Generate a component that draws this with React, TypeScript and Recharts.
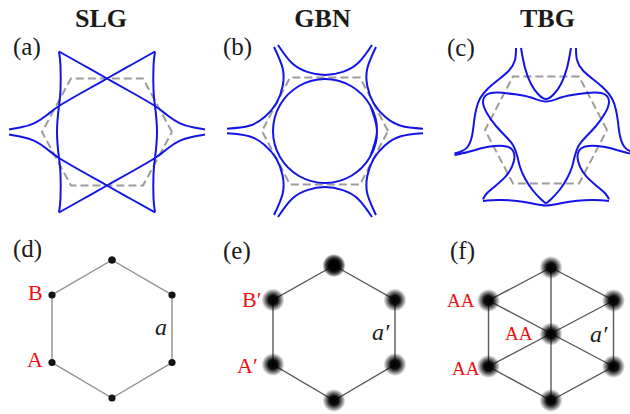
import React from 'react';
import { LineChart, Line, XAxis, YAxis } from 'recharts';

type Pt = { x: number; y: number };
const pts = (a: number[][]): Pt[] => a.map(([x, y]) => ({ x, y }));

// ---- (a) SLG contours, local units (px from panel centre, y up)
const slgLeftUp = pts([[-98, 2.5], [-86, 4.7], [-73, 8.7], [-60, 17], [-48, 26], [-24, 40], [0, 53.5], [24, 67], [48, 80.5]]);
const slgRightUp = pts([[98, 2.5], [86, 4.7], [73, 8.7], [60, 17], [48, 26], [24, 40], [0, 53.5], [-24, 67], [-48, 80.5]]);
const slgLeftDown = pts([[-98, -2.5], [-86, -4.7], [-73, -8.7], [-60, -17], [-48, -26], [-24, -40], [0, -53.5], [24, -67], [48, -80.5]]);
const slgRightDown = pts([[98, -2.5], [86, -4.7], [73, -8.7], [60, -17], [48, -26], [24, -40], [0, -53.5], [-24, -67], [-48, -80.5]]);
const slgLeftSide = pts([[-48, 80.5], [-46.5, 66], [-46.5, 42], [-48, 26], [-50, 0], [-48, -26], [-46.5, -42], [-46.5, -66], [-48, -80.5]]);
const slgRightSide = pts([[48, 80.5], [46.5, 66], [46.5, 42], [48, 26], [50, 0], [48, -26], [46.5, -42], [46.5, -66], [48, -80.5]]);
const slgBz = pts([[65, 0], [36, 53.5], [-36, 53.5], [-65, 0], [-36, -53.5], [36, -53.5], [65, 0]]);

// ---- (b) GBN
const gbnCircle = pts([[45, -26], [52, 0], [45, 26], [26, 45], [0, 52], [-26, 45], [-45, 26], [-52, 0], [-45, -26], [-26, -45], [0, -52], [26, -45], [45, -26], [52, 0], [45, 26]]);
const gbnTop = pts([[-47, 86], [-33.4, 68.2], [-17.8, 59.1], [0, 56], [17.8, 59.1], [33.4, 68.2], [47, 86]]);
const gbnBottom = pts([[-47, -86], [-33.4, -68.2], [-17.8, -59.1], [0, -56], [17.8, -59.1], [33.4, -68.2], [47, -86]]);
const gbnUpRight = pts([[51, 84], [42.4, 63], [42.3, 45], [48.5, 28], [60.1, 14.2], [75.8, 5.2], [98, 2.2]]);
const gbnLowRight = pts([[51, -84], [42.4, -63], [42.3, -45], [48.5, -28], [60.1, -14.2], [75.8, -5.2], [98, -2.2]]);
const gbnUpLeft = pts([[-51, 84], [-42.4, 63], [-42.3, 45], [-48.5, 28], [-60.1, 14.2], [-75.8, 5.2], [-98, 2.2]]);
const gbnLowLeft = pts([[-51, -84], [-42.4, -63], [-42.3, -45], [-48.5, -28], [-60.1, -14.2], [-75.8, -5.2], [-98, -2.2]]);
const gbnBz = pts([[63, 0], [35, 53.5], [-35, 53.5], [-63, 0], [-35, -53.5], [35, -53.5], [63, 0]]);

// ---- (c) TBG
const tbgOuterLeft = pts([[-30, 82], [-31, 70], [-37, 59.5], [-48, 50], [-58, 41.5], [-66, 31.5], [-70, 20], [-72, 8], [-74, -6], [-78.5, -17], [-85, -21.5], [-91.5, -23.5]]);
const tbgOuterRight = pts([[30, 82], [31, 70], [37, 59.5], [48, 50], [58, 41.5], [66, 31.5], [70, 20], [72, 8], [74, -6], [78.5, -17], [85, -21.5], [91.5, -23.5]]);
const tbgLobeLeft = pts([[-91.5, -25], [-78, -22], [-64.7, -18.3], [-51.3, -16], [-38.5, -16.7], [-33, -20.7], [-31.5, -27.3], [-34, -36.7], [-40.5, -46.7], [-51.5, -56.7], [-59.7, -64], [-63, -69.3]]);
const tbgLobeRight = pts([[91.5, -25], [78, -22], [64.7, -18.3], [51.3, -16], [38.5, -16.7], [33, -20.7], [31.5, -27.3], [34, -36.7], [40.5, -46.7], [51.5, -56.7], [59.7, -64], [63, -69.3]]);
const tbgBottom = pts([[-63, -71], [-48, -70], [-31.3, -70.7], [-14.7, -73.3], [0, -75.5], [14.7, -73.3], [31.3, -70.7], [48, -70], [63, -71]]);
const tbgTopV = pts([[-25, 82], [-21, 62], [-15, 46], [-8, 36], [0, 31], [8, 36], [15, 46], [21, 62], [25, 82]]);
const tbgInner = pts([
  [0, -73.5], [-5, -69.3], [-13.5, -60], [-21, -48.5], [-26, -37], [-28.5, -27], [-32.5, -16], [-40, -6.7], [-50, 4], [-59, 16.7], [-63, 28], [-59, 35.5], [-48, 37.5], [-31, 35.7], [-15, 32.5], [0, 28.5],
  [15, 32.5], [31, 35.7], [48, 37.5], [59, 35.5], [63, 28], [59, 16.7], [50, 4], [40, -6.7], [32.5, -16], [28.5, -27], [26, -37], [21, -48.5], [13.5, -60], [5, -69.3], [0, -73.5],
]);
const tbgBz = pts([[61, 0], [33, 53.5], [-33, 53.5], [-61, 0], [-33, -53.5], [33, -53.5], [61, 0]]);

// ---- (d)(e)(f) lattices
const slgLattice = pts([[0, 69], [60, 34], [60, -33.5], [0, -69], [-60, -33.5], [-60, 34], [0, 69]]);
const gbnLattice = pts([[0, 67.5], [61, 33], [61, -31.5], [0, -67.5], [-61, -31.5], [-61, 33], [0, 67.5]]);
const tbgLattice = pts([[0, 66.5], [62.5, 33.5], [62.5, -32.5], [0, -66.5], [-62.5, -32.5], [-62.5, 33.5], [0, 66.5]]);
const tbgSites = pts([[0, 66.5], [62.5, 33.5], [62.5, -32.5], [0, -66.5], [-62.5, -32.5], [-62.5, 33.5], [0, 0]]);
const tbgDiag1 = pts([[0, 66.5], [0, -66.5]]);
const tbgDiag2 = pts([[-62.5, 33.5], [62.5, -32.5]]);
const tbgDiag3 = pts([[62.5, 33.5], [-62.5, -32.5]]);

const BLUE = '#1414e6';
const DASH = '#9c9c9c';
const RED = '#ee1111';
const SERIF = "'Liberation Serif', 'Times New Roman', serif";

const curve = (key: string, data: Pt[], stroke = BLUE, width = 2, extra: any = {}) => (
  <Line key={key} data={data} dataKey="y" type="natural" stroke={stroke} strokeWidth={width}
    dot={false} activeDot={false} isAnimationActive={false} {...extra} />
);
const bz = (data: Pt[]) => curve('bz', data, DASH, 2, { type: 'linear', strokeDasharray: '8 4' });
const edge = (key: string, data: Pt[], stroke: string) => curve(key, data, stroke, 1.4, { type: 'linear' });

const blob = (p: any) => (
  <circle key={`b${p.index}`} cx={p.cx} cy={p.cy} r={11.5} fill="url(#blob)" />
);
const sharpDot = (p: any) => (
  <circle key={`s${p.index}`} cx={p.cx} cy={p.cy} r={3.6} fill="#151515" />
);

function Panel({ cx, cy, x0, x1, y0, y1, children }: any) {
  return (
    <div style={{ position: 'absolute', left: cx + x0, top: cy - y1 }}>
      <LineChart width={x1 - x0} height={y1 - y0} margin={{ top: 0, right: 0, bottom: 0, left: 0 }}>
        <XAxis type="number" dataKey="x" domain={[x0, x1]} hide allowDataOverflow />
        <YAxis type="number" domain={[y0, y1]} hide allowDataOverflow />
        {children}
      </LineChart>
    </div>
  );
}

export default function App() {
  return (
    <div style={{ position: 'absolute', left: 0, top: 0, width: 630, height: 414, overflow: 'hidden', background: '#fff' }}>
      <Panel cx={106.5} cy={132} x0={-106} x1={106} y0={-100} y1={100}>
        {bz(slgBz)}
        {curve('a1', slgLeftUp)}
        {curve('a2', slgRightUp)}
        {curve('a3', slgLeftDown)}
        {curve('a4', slgRightDown)}
        {curve('a5', slgLeftSide)}
        {curve('a6', slgRightSide)}
      </Panel>
      <Panel cx={324.5} cy={131} x0={-106} x1={106} y0={-100} y1={100}>
        {bz(gbnBz)}
        {curve('b0', gbnCircle)}
        {curve('b1', gbnTop)}
        {curve('b2', gbnBottom)}
        {curve('b3', gbnUpRight)}
        {curve('b4', gbnLowRight)}
        {curve('b5', gbnUpLeft)}
        {curve('b6', gbnLowLeft)}
      </Panel>
      <Panel cx={546} cy={130} x0={-96} x1={84} y0={-100} y1={100}>
        {bz(tbgBz)}
        {curve('c1', tbgOuterLeft)}
        {curve('c2', tbgOuterRight)}
        {curve('c3', tbgLobeLeft)}
        {curve('c4', tbgLobeRight)}
        {curve('c5', tbgBottom)}
        {curve('c6', tbgTopV)}
        {curve('c7', tbgInner)}
      </Panel>
      <Panel cx={112} cy={328.5} x0={-80} x1={80} y0={-80} y1={80}>
        {edge('d1', slgLattice, '#8f8f8f')}
        {curve('d2', slgLattice, 'none', 0, { type: 'linear', dot: sharpDot })}
      </Panel>
      <Panel cx={334} cy={332.5} x0={-80} x1={80} y0={-80} y1={80}>
        {edge('e1', gbnLattice, '#5a5a5a')}
        {curve('e2', gbnLattice, 'none', 0, { type: 'linear', dot: blob })}
      </Panel>
      <Panel cx={550.5} cy={333.5} x0={-78} x1={78} y0={-80} y1={80}>
        {edge('f1', tbgLattice, '#5a5a5a')}
        {edge('f2', tbgDiag1, '#5a5a5a')}
        {edge('f3', tbgDiag2, '#5a5a5a')}
        {edge('f4', tbgDiag3, '#5a5a5a')}
        {curve('f5', tbgSites, 'none', 0, { type: 'linear', dot: blob })}
      </Panel>
      <svg width={630} height={414} style={{ position: 'absolute', left: 0, top: 0, pointerEvents: 'none' }}
        fontFamily={SERIF}>
        <defs>
          <radialGradient id="blob">
            <stop offset="0%" stopColor="#000" stopOpacity={1} />
            <stop offset="40%" stopColor="#000" stopOpacity={0.95} />
            <stop offset="70%" stopColor="#000" stopOpacity={0.5} />
            <stop offset="100%" stopColor="#000" stopOpacity={0} />
          </radialGradient>
        </defs>
        <g fill="#1a1a1a" fontWeight="bold" fontSize={26} textAnchor="middle">
          <text x={101} y={27}>SLG</text>
          <text x={322.5} y={27}>GBN</text>
          <text x={547.5} y={27}>TBG</text>
        </g>
        <g fill="#1a1a1a" fontSize={25}>
          <text x={13} y={55}>(a)</text>
          <text x={223} y={55}>(b)</text>
          <text x={447} y={56}>(c)</text>
          <text x={13} y={257}>(d)</text>
          <text x={223} y={259}>(e)</text>
          <text x={450} y={259}>(f)</text>
        </g>
        <g fill={RED} fontSize={22}>
          <text x={28} y={300}>B</text>
          <text x={27} y={367}>A</text>
          <text x={242} y={307}>B′</text>
          <text x={237} y={373}>A′</text>
        </g>
        <g fill={RED} fontSize={19}>
          <text x={447} y={307}>AA</text>
          <text x={505} y={340}>AA</text>
          <text x={452} y={375}>AA</text>
        </g>
        <g fill="#1a1a1a" fontSize={24} fontStyle="italic">
          <text x={155} y={335}>a</text>
          <text x={372} y={340}>a′</text>
          <text x={590} y={342}>a′</text>
        </g>
      </svg>
    </div>
  );
}
